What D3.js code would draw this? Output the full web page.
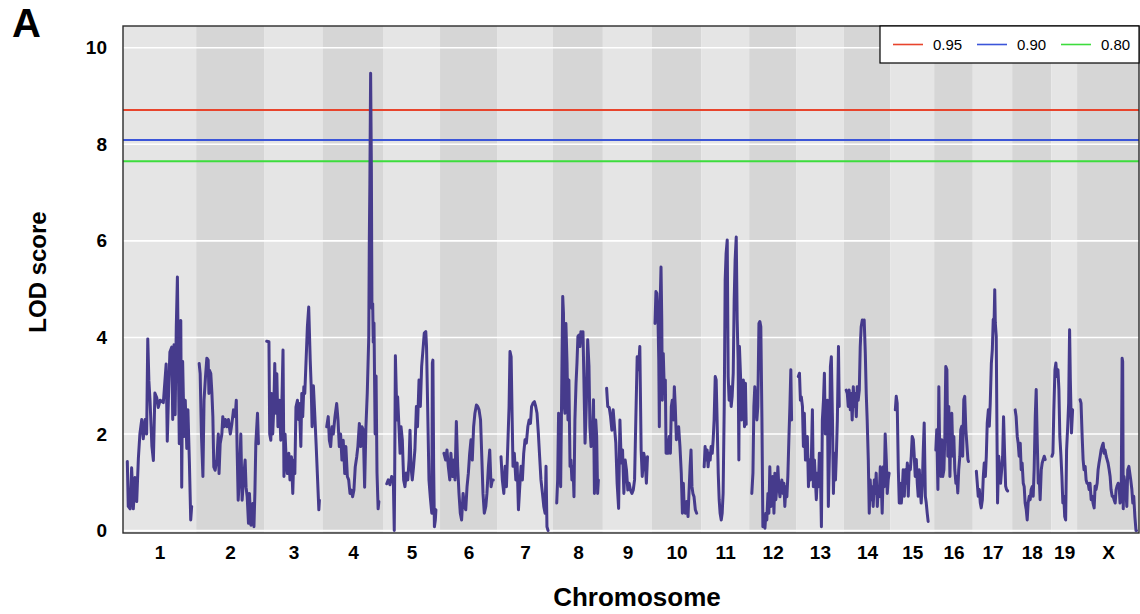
<!DOCTYPE html>
<html>
<head>
<meta charset="utf-8">
<script src="https://cdn.jsdelivr.net/npm/d3@7"></script>
<style>
  html, body { margin: 0; padding: 0; background: #ffffff; }
  svg { display: block; }
  text { font-family: "Liberation Sans", Arial, Helvetica, sans-serif; }
</style>
</head>
<body>
<svg id="chart" width="1140" height="614"></svg>
<script>
// ---------------- data ----------------
const chrNames = ["1","2","3","4","5","6","7","8","9","10","11","12","13","14","15","16","17","18","19","X"];
const chrLengths = [195,181,157,160,152,152,149,133,131,131,128,125,127,124,117,103,105,104,69,165];
const yTicks = [0,2,4,6,8,10];
const thresholdLevels = [0.95, 0.90, 0.80];
const thresholdLabels = ["0.95","0.90","0.80"];
const thresholdValues = [8.71, 8.09, 7.65];
const thresholdColors = ["#e8442c","#3b55d9","#3ddc3d"];

const lodChr1 = [[11.5,1.43],[14,0.5],[19,0.45],[23,1.3],[27.5,0.45],[32,1.1],[36.5,0.6],[41,1.5],[45,2.0],[50,2.3],[54,1.9],[59,2.3],[63,2.0],[66,3.97],[69,3.1],[72,2.7],[77,1.75],[81,1.45],[85,2.85],[90,2.75],[94,2.55],[99,2.7],[107.5,2.65],[115,3.45],[118,1.85],[122,3.0],[125,3.7],[130,3.8],[132.5,2.3],[136,3.85],[139,2.4],[142,4.2],[145,5.25],[147.5,3.5],[150,1.8],[154,4.35],[156.5,0.9],[159,3.5],[163,1.95],[166,2.7],[170,1.7],[173,2.5],[177,1.4],[180.5,0.22],[183,0.5]];
const lodChr2 = [[8,3.46],[10.7,3.25],[14,2.0],[18,1.12],[21,2.7],[25,3.2],[28.5,3.57],[32,3.53],[34,2.84],[35.5,3.32],[39,3.25],[42,2.84],[44.5,2.36],[47,1.32],[50.5,1.25],[55,1.46],[59,2.0],[61,1.18],[64,1.8],[68.5,2.0],[71,2.36],[74.5,2.15],[78,2.3],[82,2.15],[86,2.3],[91,2.0],[95,2.2],[99.5,2.5],[104,2.36],[107,2.7],[109,1.74],[112,0.63],[115.5,1.12],[119,2.0],[122.5,0.63],[126,1.05],[130.5,1.46],[133,0.9],[136,0.7],[139.5,0.15],[142,0.77],[146,0.11],[148.5,0.22],[151,0.56],[154,0.08],[156.5,0.77],[159,1.8],[162,2.22],[163.5,2.43],[166,1.8]];
const lodChr3 = [[7,3.92],[13,3.91],[15,2.0],[18,1.87],[20.5,2.84],[23,2.0],[26,2.56],[28.5,3.46],[31,2.43],[34,3.25],[37,2.15],[41,2.7],[44.5,1.87],[48,2.84],[50.5,3.74],[53,1.12],[56,2.0],[59,1.46],[62,1.18],[66,1.6],[69,1.05],[73,1.53],[76.5,0.77],[79,1.46],[82,1.18],[85,2.56],[89,2.7],[91.5,2.3],[94,2.63],[98,1.74],[100.5,2.84],[103,2.36],[106,2.98],[108.5,2.84],[112,3.53],[115.5,4.23],[119,4.63],[123,3.53],[125.5,3.0],[128,2.15],[131.5,3.0],[135,2.43],[139,1.74],[142,1.18],[146,0.43],[147.5,0.63]];
const lodChr4 = [[10,2.15],[14,2.36],[17,1.87],[20.5,1.74],[24,2.15],[27.5,2.0],[32,2.36],[36.5,2.63],[40,2.3],[43.5,1.74],[47,2.0],[50.5,1.46],[54,1.87],[58,1.18],[61,1.74],[65,1.12],[68.5,1.05],[72,0.77],[75.5,0.84],[79,0.7],[82.5,0.84],[86,1.32],[90,1.53],[93,1.74],[97,2.22],[100.5,1.74],[104,2.15],[107.5,2.08],[111,0.9],[114.5,2.15],[118,2.84],[122,4.0],[123.5,6.0],[125,7.2],[127,9.47],[129,7.5],[130.5,4.6],[132.5,4.7],[134,3.9],[136,4.3],[139,2.0],[141.5,3.2],[144,1.2],[147,0.45],[149,0.6]];
const lodChr5 = [[10,0.97],[14,1.05],[18.5,0.95],[23,1.12],[27.5,1.05],[30,0.0],[31,1.0],[33,3.62],[35.5,2.84],[37.5,2.29],[39,2.77],[42.5,2.15],[45.5,1.6],[48,2.15],[51.5,1.88],[55,1.05],[58.5,0.91],[62,1.19],[66,1.05],[69.5,1.46],[72,2.08],[74.5,1.33],[78,1.05],[81.5,1.33],[85,1.67],[89,2.57],[92,2.15],[96,3.12],[99.5,2.57],[103,3.4],[106.5,3.74],[110,4.09],[114,4.12],[116,3.81],[119,2.57],[122.5,1.05],[126,0.7],[130,0.36],[131.5,3.47],[133,3.53],[135,1.33],[137,0.08],[139.5,0.22],[141,0.43]];
const lodChr6 = [[10.5,1.6],[15,1.46],[18.5,1.67],[22,1.33],[26,1.05],[29,1.6],[33,1.12],[36.5,1.46],[40,1.05],[43.5,2.26],[47,1.33],[50.5,0.77],[54,0.36],[57.5,0.22],[61.5,0.77],[65,0.5],[68.5,0.43],[72,0.91],[75.5,1.19],[79,1.6],[82.5,1.88],[86,1.46],[89.5,2.15],[93,2.43],[97,2.6],[100.5,2.57],[104,2.5],[108,2.29],[111,1.6],[114.5,0.77],[118,0.36],[122,0.5],[125,0.77],[129,1.33],[132.5,1.67],[136,0.91],[139.5,1.05],[142,1.05]];
const lodChr7 = [[10.5,1.53],[14,1.05],[18,0.77],[21.5,1.33],[25,0.91],[28.5,1.74],[32,2.57],[34.5,3.71],[37.5,3.6],[40,2.43],[42.5,1.33],[46,1.6],[50,1.05],[53.5,1.4],[57,0.43],[60.5,0.91],[64,1.33],[67.5,1.05],[71,1.6],[74.5,1.88],[78,1.81],[82,2.15],[85.5,2.29],[89,2.22],[92,2.57],[96,2.64],[99.5,2.67],[103,2.57],[106.5,2.43],[110,2.02],[113.5,1.53],[117,1.05],[121,0.77],[124.5,0.5],[128,0.36],[130.5,1.33],[133,0.08],[136,0.0]];
const lodChr8 = [[10,0.57],[12.5,1.05],[15,2.43],[18,1.33],[20.5,0.91],[23,2.71],[26,4.85],[28,4.5],[30,2.6],[32,2.43],[34.5,4.29],[37.5,3.47],[40,2.29],[42.5,3.12],[45.5,1.33],[48,1.46],[50.5,1.05],[53.5,1.33],[56,0.7],[58.5,2.29],[61.5,3.05],[64,3.47],[66.5,4.02],[69.5,4.05],[72,3.81],[74.5,4.12],[77.5,3.95],[80,4.12],[82.5,3.12],[85.5,1.81],[89,2.64],[92.5,3.95],[96,3.4],[98.5,2.15],[101.5,1.74],[105,1.95],[108,2.71],[110.5,0.77],[114,2.29],[116.5,1.95],[119,0.77],[121,1.05]];
const lodChr9 = [[10,2.95],[13,2.57],[17,2.55],[20.5,2.36],[24,2.08],[27.5,2.5],[31,2.15],[34.5,1.81],[38,0.98],[42,0.46],[45.5,2.29],[49,1.4],[52.5,1.67],[56,0.77],[59.5,1.46],[63,1.25],[66.5,0.84],[70,0.98],[73.5,0.84],[77.5,0.77],[81,0.84],[84.5,1.05],[88,2.36],[91.5,3.6],[95,3.33],[98.5,3.81],[102,1.67],[105,1.12],[109,1.6],[112.5,1.46],[116,0.98],[119,1.53]];
const lodChr10 = [[8,4.29],[10.5,4.95],[13,4.91],[16,4.36],[18,3.53],[19.5,2.15],[21.5,4.64],[24,5.46],[26,4.36],[27.5,2.7],[30,3.67],[33,2.84],[35.5,3.12],[37.5,1.6],[40,1.88],[42.5,1.6],[46,1.95],[49,1.6],[51.5,2.57],[54,2.7],[57,2.29],[59.5,2.98],[62,2.57],[65,1.88],[67.5,2.0],[71,2.15],[74.5,1.74],[78,1.19],[81,0.36],[83.5,0.98],[86,0.43],[89,0.36],[92.5,0.6],[96,0.29],[98.5,0.77],[101.5,1.32],[104,1.67],[106.5,0.91],[109,0.77],[112,0.7],[115.5,0.43],[119,0.36]];
const lodChr11 = [[8,1.32],[10.5,1.74],[13.5,1.46],[16,1.67],[18.5,1.32],[21.5,1.6],[24,1.46],[26.5,1.74],[29.5,1.6],[32,1.88],[34.5,2.29],[37.5,3.19],[40,3.12],[42.5,2.29],[45.5,1.19],[48,0.64],[50.5,0.36],[53.5,0.22],[56,0.36],[58.5,0.77],[61.5,2.57],[64,5.19],[66.5,5.74],[69.5,6.02],[72,3.19],[74.5,2.7],[77.5,2.98],[80,2.57],[82.5,2.77],[85.5,3.26],[88,4.78],[90.5,5.6],[93.5,6.08],[96,4.36],[98.5,3.53],[100.5,1.46],[102,3.81],[105,3.19],[107.5,2.29],[110,2.57],[112.5,3.12],[115.5,2.15],[118,3.05],[120,2.2]];
const lodChr12 = [[7,0.77],[10,1.19],[12.5,2.57],[15,2.98],[18,2.57],[20.5,2.29],[23,2.57],[26,4.29],[28.5,4.33],[31,4.22],[34,2.29],[36.5,0.08],[39,0.22],[42,0.05],[44.5,0.36],[47,0.22],[50,0.77],[52.5,0.36],[55,1.32],[58,0.5],[60.5,0.77],[63,1.12],[66,0.36],[68.5,1.19],[71,0.64],[74,0.91],[76.5,1.32],[79,0.91],[82,0.7],[84.5,0.91],[87,1.05],[90,0.77],[92.5,0.98],[95,0.5],[98,0.91],[100.5,0.7],[103,1.12],[106,1.95],[108.5,2.57],[111,3.33],[113,2.29]];
const lodChr13 = [[6,3.19],[9,3.26],[11.5,2.7],[14,2.77],[17,2.57],[19.5,1.74],[22,2.43],[25,1.46],[27.5,1.74],[30,1.95],[33,0.91],[35.5,1.46],[38,1.05],[41,1.6],[43.5,2.5],[46,0.91],[49,1.46],[51.5,1.05],[54,0.64],[57,1.19],[59.5,0.91],[62,1.6],[65,1.19],[67.5,0.08],[70,2.29],[73,2.7],[75.5,3.26],[78,2.0],[81,2.57],[83.5,2.7],[86,0.5],[89,1.6],[91.5,3.4],[94,3.6],[97,2.29],[99.5,0.77],[102,1.6],[105,1.05],[107.5,1.6],[110,2.29],[113,3.81],[115,2.57]];
const lodChr14 = [[6.5,2.91],[9.5,2.84],[12,2.57],[14.5,2.91],[17.5,2.5],[20,2.84],[22.5,2.29],[25.5,2.98],[28,2.57],[30.5,2.84],[33.5,2.36],[36,2.98],[38.5,2.7],[41.5,2.91],[44,3.81],[46.5,4.22],[49.5,4.36],[52,4.29],[54.5,4.36],[57.5,3.67],[60,2.84],[62.5,2.29],[65.5,1.46],[68,0.36],[70.5,1.05],[73.5,0.64],[76,0.91],[78.5,0.5],[81.5,1.05],[84,0.77],[86.5,1.19],[89.5,0.5],[92,0.91],[94.5,0.7],[97.5,1.32],[100,0.98],[102.5,0.36],[105.5,1.32],[108,0.91],[110.5,2.0],[113.5,1.46],[116,0.77],[118.5,1.05],[121,1.19]];
const lodChr15 = [[13.5,2.5],[16,2.78],[18.5,2.64],[21.5,1.26],[24,0.57],[26.5,0.98],[29.5,0.57],[32,0.85],[34.5,1.26],[37.5,0.71],[40,1.26],[42.5,0.98],[45.5,1.4],[48,0.71],[50.5,1.33],[53.5,1.26],[56,1.54],[58.5,1.95],[61.5,1.88],[64,1.54],[66.5,1.12],[69.5,1.47],[72,0.98],[74.5,0.71],[77.5,1.26],[80,0.85],[82.5,0.57],[85.5,0.98],[88,1.67],[90.5,2.23],[93.5,0.71],[96,0.57],[98.5,0.36],[101,0.19]];
const lodChr16 = [[4.5,1.67],[7,2.09],[10,0.85],[12.5,2.98],[15,1.54],[18,1.12],[20.5,1.88],[23,1.12],[26,1.26],[28.5,1.95],[31,3.4],[34,3.33],[36.5,1.54],[39,2.57],[42,1.12],[44.5,2.09],[47,2.43],[50,1.54],[52.5,1.95],[55,1.26],[58,0.98],[60.5,1.12],[63,0.78],[65.5,1.26],[68.5,1.54],[71,2.09],[73.5,2.16],[76,1.54],[79,2.71],[81.5,2.78],[84.5,2.09],[87,1.81],[90,1.47],[91.5,1.43]];
const lodChr17 = [[9.5,1.23],[12,0.98],[14.5,0.71],[17.5,0.85],[20,0.57],[22.5,0.47],[25.5,0.64],[28,1.12],[30.5,1.4],[33.5,1.12],[36,1.54],[38.5,2.23],[41.5,2.5],[44,2.16],[46.5,2.64],[49.5,3.47],[52,3.74],[54.5,4.37],[57,4.4],[58.5,4.99],[60,4.3],[62.5,4.02],[64.5,1.95],[66,0.57],[69,1.54],[71.5,1.26],[74,0.98],[77,1.26],[79.5,1.54],[82,2.36],[85,1.54],[87.5,0.92],[90,0.85],[93,0.82]];
const lodChr18 = [[8,2.5],[10.5,2.36],[13.5,1.95],[16,1.81],[18.5,1.54],[21.5,1.81],[24,1.26],[26.5,1.4],[29.5,0.98],[32,0.91],[34.5,0.57],[37.5,0.43],[40,0.22],[42.5,0.57],[45.5,0.71],[48,0.64],[50.5,0.85],[53.5,0.91],[56,0.71],[58.5,1.26],[61.5,2.36],[64,2.92],[66.5,1.95],[69.5,0.98],[72,1.12],[74.5,0.64],[77.5,1.26],[80,1.4],[82.5,1.47],[85.5,1.54],[88,1.47]];
const lodChr19 = [[2,1.54],[4.5,1.6],[7,2.5],[10,3.33],[12.5,3.47],[15,3.19],[18,3.33],[20.5,2.92],[23,1.95],[26,1.54],[28.5,1.12],[31,0.57],[33.5,0.71],[36,0.29],[38.5,0.22],[41,1.67],[44,2.16],[46.5,2.64],[49,4.16],[51,3.12],[54,2.02],[57,2.5]];
const lodChrX = [[8,2.71],[10.5,2.64],[13.5,1.95],[16,1.47],[18.5,1.26],[21.5,1.33],[24,1.05],[26.5,0.98],[29.5,0.98],[32,0.85],[34.5,0.98],[37.5,0.64],[40,0.71],[42.5,0.57],[45.5,0.47],[48,0.92],[50.5,0.85],[53.5,0.98],[56,1.26],[58.5,1.4],[61.5,1.54],[64,1.67],[66.5,1.74],[69.5,1.81],[72,1.6],[74.5,1.67],[77.5,1.54],[80,1.47],[82.5,1.4],[85.5,1.26],[88,1.12],[90.5,0.85],[93.5,0.71],[96,0.71],[98.5,0.64],[101.5,0.57],[104,0.85],[106.5,0.92],[109.5,0.98],[112,0.92],[114.5,0.57],[117.5,0.64],[120,3.57],[121.5,3.5],[123,0.45],[125,1.12],[127,1.0],[130,0.85],[132.5,0.5],[135,1.26],[138,1.33],[140.5,1.19],[143,1.05],[146,0.85],[148.5,0.57],[151,0.71],[154,0.29],[157,0.0],[158.5,0.0]];
const lodByChr = [lodChr1,lodChr2,lodChr3,lodChr4,lodChr5,lodChr6,lodChr7,lodChr8,lodChr9,lodChr10,lodChr11,lodChr12,lodChr13,lodChr14,lodChr15,lodChr16,lodChr17,lodChr18,lodChr19,lodChrX];

// ---------------- layout ----------------
const W = 1140, H = 614;
const margin = {left: 123, right: 1, top: 26, bottom: 81};
const plotL = margin.left, plotR = W - margin.right, plotT = margin.top, plotB = H - margin.bottom;

const chrStarts = [];
let acc = 0;
chrLengths.forEach(l => { chrStarts.push(acc); acc += l; });
const totalLen = acc;

const x = d3.scaleLinear().domain([0, totalLen]).range([plotL, plotR]);
const y = d3.scaleLinear().domain([-0.05, 10.45]).range([plotB, plotT]);

const svg = d3.select("#chart");

svg.append("defs").append("clipPath").attr("id","plotClip")
  .append("rect").attr("x", plotL).attr("y", plotT).attr("width", plotR - plotL).attr("height", plotB - plotT);

// bands
svg.append("g").selectAll("rect").data(chrNames).join("rect")
  .attr("x", (d,i) => x(chrStarts[i]))
  .attr("y", plotT)
  .attr("width", (d,i) => x(chrStarts[i] + chrLengths[i]) - x(chrStarts[i]))
  .attr("height", plotB - plotT)
  .attr("fill", (d,i) => i % 2 === 0 ? "#e5e5e5" : "#d6d6d6");

// grid lines
svg.append("g").selectAll("line").data(yTicks).join("line")
  .attr("x1", plotL).attr("x2", plotR)
  .attr("y1", d => y(d)).attr("y2", d => y(d))
  .attr("stroke", "#ffffff").attr("stroke-width", 1.6);

// threshold lines
svg.append("g").selectAll("line").data(thresholdValues).join("line")
  .attr("x1", plotL).attr("x2", plotR)
  .attr("y1", d => y(d)).attr("y2", d => y(d))
  .attr("stroke", (d,i) => thresholdColors[i]).attr("stroke-width", 2);

// LOD curve
const line = d3.line()
  .x(d => x(d[0]))
  .y(d => y(d[1]));
svg.append("g").attr("clip-path","url(#plotClip)")
  .selectAll("path").data(lodByChr).join("path")
  .attr("d", (pts, i) => line(pts.map(p => [chrStarts[i] + p[0], p[1]])))
  .attr("fill", "none")
  .attr("stroke", "#463b8c")
  .attr("stroke-width", 3)
  .attr("stroke-linejoin", "round")
  .attr("stroke-linecap", "round");

// frame
svg.append("rect")
  .attr("x", plotL).attr("y", plotT)
  .attr("width", plotR - plotL).attr("height", plotB - plotT)
  .attr("fill", "none").attr("stroke", "#2b2b2b").attr("stroke-width", 1.4);

// y axis labels
const yAxis = d3.axisLeft(y).tickValues(yTicks).tickSize(0).tickPadding(16).tickFormat(d3.format("d"));
const gy = svg.append("g").attr("transform", `translate(${plotL},0)`).call(yAxis);
gy.select(".domain").remove();
gy.selectAll("text").attr("font-size", 19).attr("font-weight", "bold").attr("fill", "#000")
  .attr("font-family", "'Liberation Sans', Arial, sans-serif");

// x axis labels (chromosome names at band centres)
const xCenters = chrNames.map((d,i) => chrStarts[i] + chrLengths[i] / 2);
const xAxis = d3.axisBottom(x).tickValues(xCenters).tickSize(0).tickPadding(13)
  .tickFormat((d,i) => chrNames[i]);
const gx = svg.append("g").attr("transform", `translate(0,${plotB})`).call(xAxis);
gx.select(".domain").remove();
gx.selectAll("text").attr("font-size", 19).attr("font-weight", "bold").attr("fill", "#000")
  .attr("font-family", "'Liberation Sans', Arial, sans-serif");

// axis titles
svg.append("text")
  .attr("x", 637).attr("y", 606)
  .attr("text-anchor", "middle")
  .attr("font-size", 26).attr("font-weight", "bold").attr("fill", "#000")
  .text("Chromosome");

svg.append("text")
  .attr("transform", "translate(46,272) rotate(-90)")
  .attr("text-anchor", "middle")
  .attr("font-size", 24).attr("font-weight", "bold").attr("fill", "#000")
  .text("LOD score");

// panel letter
svg.append("text")
  .attr("x", 12).attr("y", 37)
  .attr("font-size", 40).attr("font-weight", "bold").attr("fill", "#000")
  .text("A");

// legend
const legX = 880, legY = plotT, legW = plotR - legX, legH = 37;
const leg = svg.append("g");
leg.append("rect").attr("x", legX).attr("y", legY).attr("width", legW).attr("height", legH)
  .attr("fill", "#ffffff").attr("stroke", "#000").attr("stroke-width", 1.2);
const itemX = [893, 977, 1061];
const legItems = leg.selectAll("g.item").data(thresholdLabels).join("g").attr("class","item")
  .attr("transform", (d,i) => `translate(${itemX[i]},${legY + legH/2})`);
legItems.append("line").attr("x1", 0).attr("x2", 30).attr("y1", 0).attr("y2", 0)
  .attr("stroke", (d,i) => thresholdColors[i]).attr("stroke-width", 1.6);
legItems.append("text").attr("x", 40).attr("y", 5.5)
  .attr("font-size", 15).attr("fill", "#000").text(d => d);
</script>
</body>
</html>
